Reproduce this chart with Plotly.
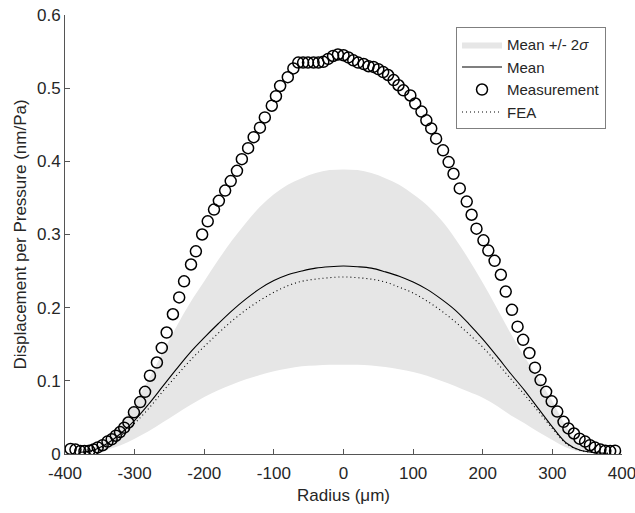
import plotly.graph_objects as go

# ---- data ----
meas_r = [-392, -385, -378, -372, -365, -359, -353, -346, -339, -333, -327, -321, -315,
          -309, -301, -292, -285, -278, -268, -261, -254, -245, -236, -229, -219, -212,
          -203, -195, -186, -179, -170, -162, -153, -146, -137, -129, -120, -113, -103,
          -97, -91, -80, -72, -65, -58, -51, -43, -36, -29, -22, -15, -8, 0, 7, 14, 21,
          29, 36, 43, 50, 57, 64, 72, 79, 86, 96, 103, 112, 119, 126, 133, 143, 151, 158,
          167, 177, 184, 191, 201, 208, 217, 226, 233, 242, 250, 258, 267, 275, 283, 291,
          299, 307, 316, 323, 331, 339, 347, 354, 361, 369, 376, 383, 390]
meas_d = [0.007, 0.006, 0.004, 0.004, 0.0045, 0.006, 0.009, 0.012, 0.017, 0.020, 0.025,
          0.030, 0.036, 0.043, 0.057, 0.071, 0.085, 0.107, 0.125, 0.145, 0.166, 0.191,
          0.214, 0.236, 0.259, 0.277, 0.300, 0.318, 0.334, 0.346, 0.360, 0.373, 0.387,
          0.403, 0.418, 0.433, 0.446, 0.460, 0.476, 0.489, 0.503, 0.515, 0.527, 0.535,
          0.535, 0.535, 0.535, 0.535, 0.536, 0.540, 0.544, 0.546, 0.545, 0.542, 0.538,
          0.535, 0.533, 0.530, 0.529, 0.526, 0.522, 0.518, 0.511, 0.504, 0.497, 0.490,
          0.479, 0.468, 0.456, 0.445, 0.431, 0.415, 0.399, 0.383, 0.363, 0.345, 0.327,
          0.308, 0.292, 0.278, 0.264, 0.245, 0.222, 0.197, 0.174, 0.156, 0.138, 0.118,
          0.101, 0.085, 0.072, 0.058, 0.044, 0.035, 0.028, 0.021, 0.017, 0.012, 0.009,
          0.006, 0.0045, 0.004, 0.0045]

curve_r = [-380, -360, -340, -320, -300, -280, -260, -240, -220, -200, -180, -160, -140,
           -120, -100, -80, -60, -40, -20, 0, 20, 40, 60, 80, 100, 120, 140, 160, 180,
           200, 220, 240, 260, 280, 300, 320, 340, 360, 380]
mean_d = [0.002, 0.005, 0.014, 0.028, 0.046, 0.068, 0.092, 0.116, 0.139, 0.159, 0.178,
          0.196, 0.212, 0.226, 0.237, 0.245, 0.250, 0.254, 0.256, 0.257, 0.256, 0.254,
          0.249, 0.243, 0.235, 0.225, 0.212, 0.197, 0.178, 0.157, 0.134, 0.110, 0.087,
          0.062, 0.037, 0.015, 0.005, 0.002, 0.001]
fea_d = [0.001, 0.004, 0.012, 0.025, 0.042, 0.062, 0.085, 0.107, 0.128, 0.147, 0.165,
         0.182, 0.197, 0.210, 0.221, 0.230, 0.236, 0.239, 0.241, 0.242, 0.241, 0.239,
         0.235, 0.228, 0.220, 0.209, 0.196, 0.181, 0.164, 0.146, 0.125, 0.103, 0.081,
         0.058, 0.035, 0.014, 0.005, 0.002, 0.001]
upper_d = [0.003, 0.008, 0.021, 0.042, 0.069, 0.102, 0.138, 0.174, 0.207, 0.236, 0.265,
           0.292, 0.316, 0.338, 0.355, 0.368, 0.377, 0.384, 0.388, 0.389, 0.388, 0.384,
           0.377, 0.368, 0.355, 0.340, 0.320, 0.295, 0.266, 0.234, 0.200, 0.165, 0.133,
           0.103, 0.072, 0.037, 0.013, 0.003, 0.001]
lower_d = [0.001, 0.002, 0.006, 0.012, 0.021, 0.031, 0.043, 0.055, 0.067, 0.078, 0.087,
           0.095, 0.102, 0.108, 0.113, 0.117, 0.120, 0.121, 0.122, 0.122, 0.122, 0.121,
           0.119, 0.116, 0.112, 0.107, 0.100, 0.093, 0.085, 0.077, 0.066, 0.053, 0.042,
           0.030, 0.019, 0.009, 0.003, 0.001, 0.0]

x_ticks = [-400, -300, -200, -100, 0, 100, 200, 300, 400]
x_labels = ["-400", "-300", "-200", "-100", "0", "100", "200", "300", "400"]
y_ticks = [0, 0.1, 0.2, 0.3, 0.4, 0.5, 0.6]
y_labels = ["0", "0.1", "0.2", "0.3", "0.4", "0.5", "0.6"]

FONT = "Liberation Sans, Arial, sans-serif"
TXT = "#262626"
AX = "#555555"

fig = go.Figure()
fig.add_trace(go.Scatter(x=curve_r, y=lower_d, mode="lines", line=dict(width=0, shape="spline"),
                         showlegend=False, hoverinfo="skip"))
fig.add_trace(go.Scatter(x=curve_r, y=upper_d, mode="lines", fill="tonexty",
                         fillcolor="#e6e6e6", line=dict(width=0, color="#e6e6e6", shape="spline"),
                         name="Mean +/- 2<i>σ</i>"))
fig.add_trace(go.Scatter(x=curve_r, y=mean_d, mode="lines",
                         line=dict(color="black", width=1.1, shape="spline"), name="Mean"))
fig.add_trace(go.Scatter(x=meas_r, y=meas_d, mode="markers",
                         marker=dict(symbol="circle-open", size=11, color="black",
                                     line=dict(width=1.5, color="black")),
                         name="Measurement"))
fig.add_trace(go.Scatter(x=curve_r, y=fea_d, mode="lines",
                         line=dict(color="black", width=1.1, dash="1px,3px", shape="spline"),
                         name="FEA"))

fig.update_layout(
    width=635, height=513,
    margin=dict(l=65, r=13, t=15, b=59),
    paper_bgcolor="white", plot_bgcolor="white",
    font=dict(family=FONT, size=17, color=TXT),
    legend=dict(x=0.702, y=0.972, xanchor="left", yanchor="top", traceorder="normal",
                bordercolor="#7f7f7f", borderwidth=1, bgcolor="white",
                font=dict(size=15, color=TXT), itemwidth=40, tracegroupgap=0),
    xaxis=dict(range=[-400, 400], tickvals=x_ticks, ticktext=x_labels, ticks="inside", ticklen=5,
               tickcolor=AX, showline=True, linecolor=AX, linewidth=1,
               showgrid=False, zeroline=False, mirror=False, ticklabelstandoff=4,
               ticklabeloverflow="allow", automargin=False,
               title=dict(text="Radius (μm)", font=dict(size=17), standoff=6)),
    yaxis=dict(range=[0, 0.6], tickvals=y_ticks, ticktext=y_labels,
               ticks="inside", ticklen=5, automargin=False,
               tickcolor=AX, showline=True, linecolor=AX, linewidth=1,
               showgrid=False, zeroline=False, mirror=False,
               title=dict(text="Displacement per Pressure (nm/Pa)", font=dict(size=17), standoff=6)),
)

fig.write_html("out.html")
